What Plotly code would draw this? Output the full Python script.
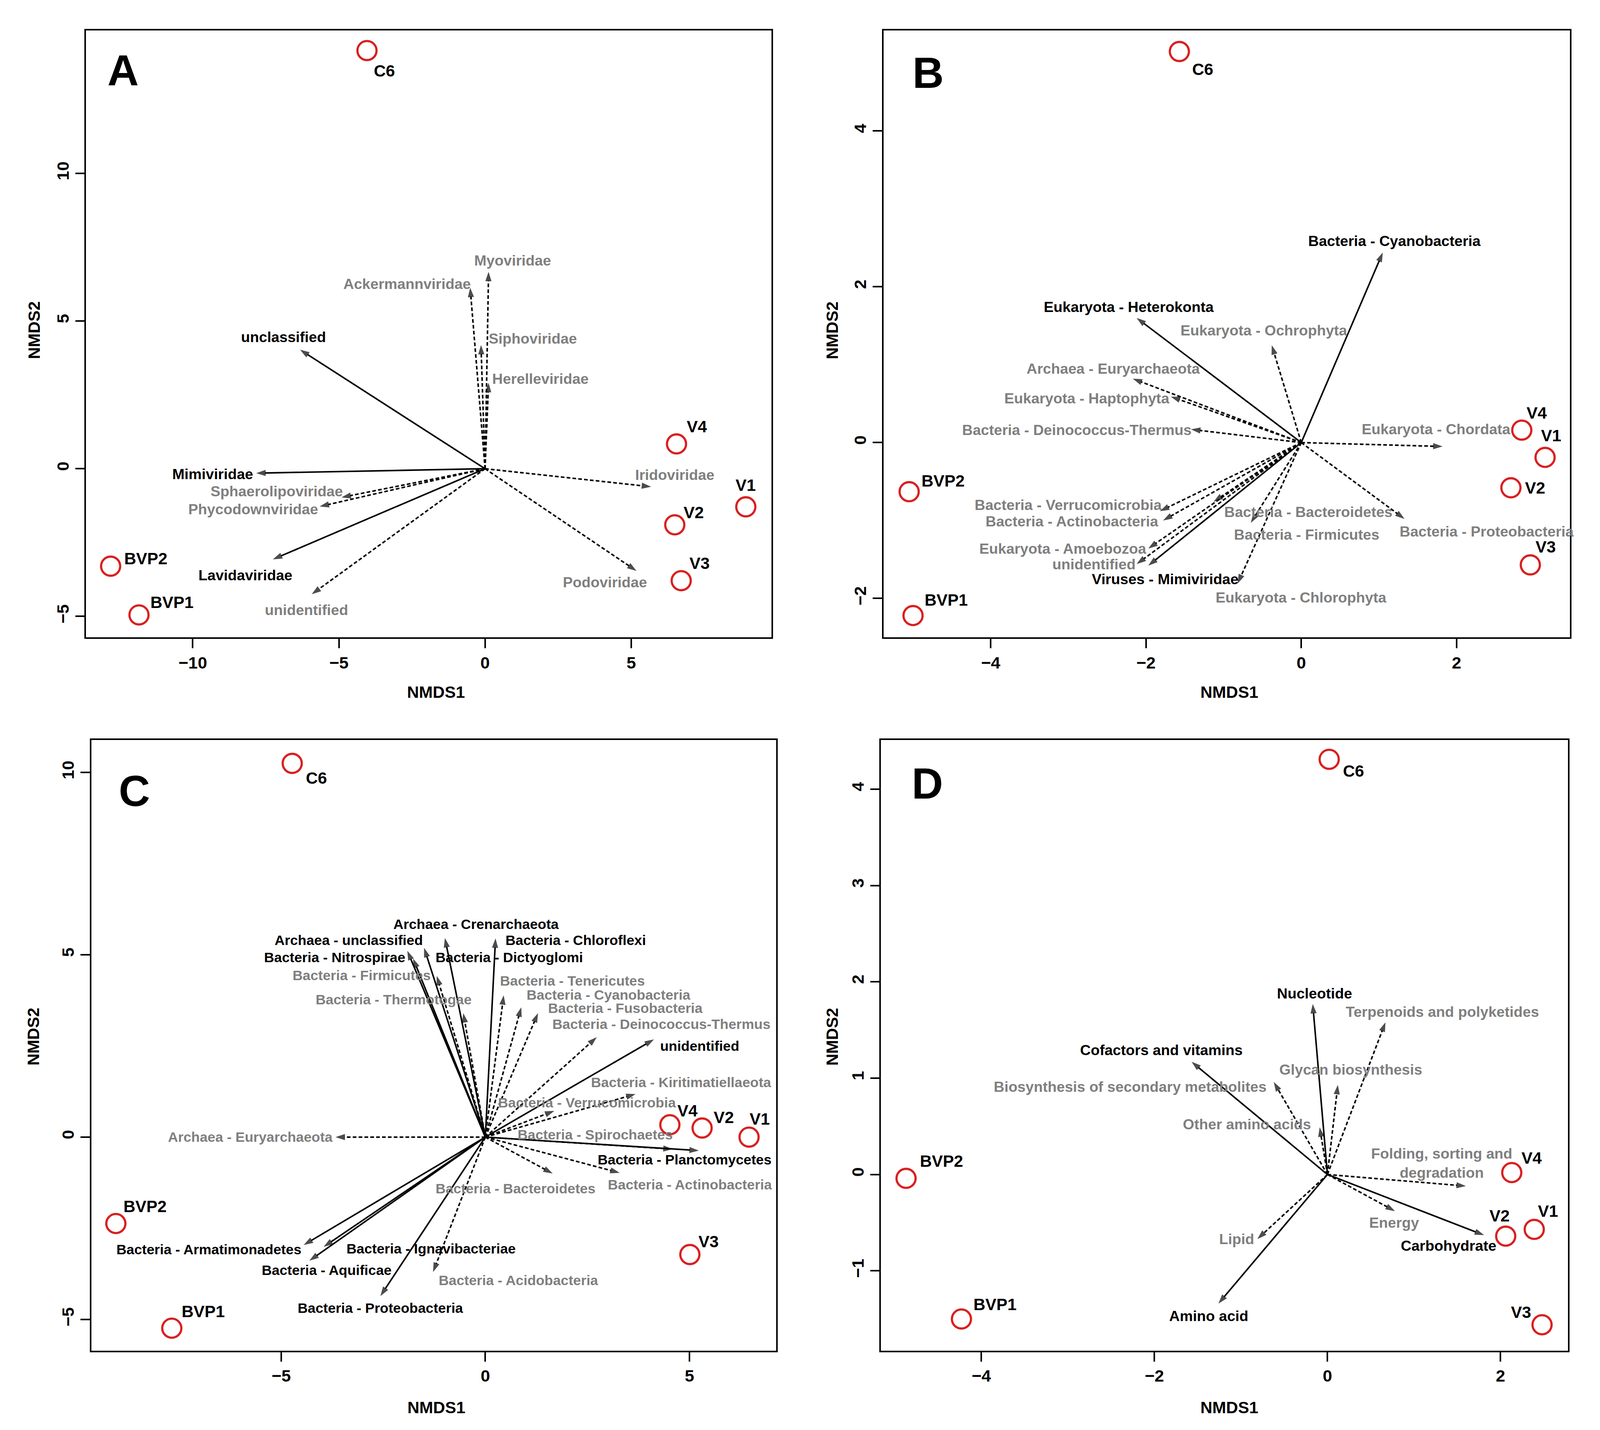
import plotly.graph_objects as go

# ---------------- Panel A : viral families ----------------
A_samples = ["C6", "BVP2", "BVP1", "V4", "V1", "V2", "V3"]
A_sx = [-4.04, -12.81, -11.84, 6.55, 8.92, 6.49, 6.71]
A_sy = [14.16, -3.30, -4.95, 0.84, -1.29, -1.90, -3.79]
A_slx = [-3.45, -11.61, -10.71, 7.25, 8.92, 7.14, 7.34]
A_sly = [13.47, -3.04, -4.52, 1.42, -0.56, -1.48, -3.20]

A_vec = ["Myoviridae", "Ackermannviridae", "Siphoviridae", "Herelleviridae", "Iridoviridae",
         "Podoviridae", "unclassified", "Mimiviridae", "Sphaerolipoviridae", "Phycodownviridae",
         "Lavidaviridae", "unidentified"]
A_vx = [0.12, -0.51, -0.14, 0.12, 5.68, 5.18, -6.33, -7.83, -4.91, -5.66, -7.26, -5.93]
A_vy = [6.67, 6.13, 4.19, 2.91, -0.61, -3.46, 4.03, -0.15, -0.97, -1.28, -3.07, -4.25]
A_sig = [False, False, False, False, False, False, True, True, False, False, True, False]
A_lx = [0.95, -2.67, 1.63, 1.89, 6.49, 4.10, -6.90, -9.32, -7.12, -7.94, -8.19, -6.11]
A_ly = [7.05, 6.26, 4.41, 3.04, -0.21, -3.84, 4.46, -0.18, -0.76, -1.37, -3.61, -4.78]

# ---------------- Panel B : microbial phyla ----------------
B_samples = ["C6", "BVP2", "BVP1", "V4", "V1", "V2", "V3"]
B_sx = [-1.57, -5.05, -5.00, 2.84, 3.14, 2.70, 2.95]
B_sy = [5.02, -0.63, -2.22, 0.16, -0.19, -0.58, -1.57]
B_slx = [-1.27, -4.61, -4.57, 3.03, 3.22, 3.01, 3.15]
B_sly = [4.79, -0.49, -2.02, 0.38, 0.09, -0.58, -1.34]

B_vec = ["Bacteria - Cyanobacteria", "Eukaryota - Ochrophyta", "Eukaryota - Heterokonta",
         "Archaea - Euryarchaeota", "Eukaryota - Haptophyta", "Bacteria - Deinococcus-Thermus",
         "Eukaryota - Chordata", "Bacteria - Proteobacteria", "Bacteria - Bacteroidetes",
         "Bacteria - Firmicutes", "Eukaryota - Chlorophyta", "Viruses - Mimiviridae",
         "unidentified", "Eukaryota - Amoebozoa", "Bacteria - Verrucomicrobia",
         "Bacteria - Actinobacteria"]
B_vx = [1.05, -0.38, -2.12, -2.17, -1.68, -1.42, 1.82, 1.33, -1.13, -0.65, -0.82, -1.97,
        -2.12, -1.97, -1.82, -1.78]
B_vy = [2.44, 1.25, 1.60, 0.82, 0.59, 0.17, -0.05, -0.98, -0.76, -1.03, -1.81, -1.58,
        -1.56, -1.36, -0.88, -1.00]
B_sig = [True, False, True, False, False, False, False, False, False, False, False, True,
         False, False, False, False]
B_lx = [1.20, -0.48, -2.22, -2.42, -2.76, -2.89, 1.74, 2.39, 0.09, 0.07, 0.00, -1.75,
        -2.67, -3.07, -3.00, -2.95]
B_ly = [2.59, 1.44, 1.74, 0.95, 0.57, 0.16, 0.17, -1.14, -0.89, -1.18, -1.99, -1.75,
        -1.56, -1.36, -0.80, -1.01]

# ---------------- Panel C : bacterial / archaeal phyla ----------------
C_samples = ["C6", "BVP2", "BVP1", "V4", "V2", "V1", "V3"]
C_sx = [-4.73, -9.05, -7.68, 4.52, 5.31, 6.46, 5.01]
C_sy = [10.25, -2.37, -5.24, 0.34, 0.25, 0.00, -3.22]
C_slx = [-4.14, -8.33, -6.91, 4.95, 5.84, 6.72, 5.47]
C_sly = [9.85, -1.90, -4.78, 0.72, 0.54, 0.50, -2.87]

C_vec = ["Archaea - Euryarchaeota", "Bacteria - Armatimonadetes", "Bacteria - Aquificae",
         "Bacteria - Ignavibacteriae", "Bacteria - Proteobacteria", "Bacteria - Acidobacteria",
         "Bacteria - Bacteroidetes", "Bacteria - Actinobacteria", "Bacteria - Planctomycetes",
         "Bacteria - Spirochaetes", "Bacteria - Verrucomicrobia", "Bacteria - Kiritimatiellaeota",
         "unidentified", "Bacteria - Deinococcus-Thermus", "Bacteria - Fusobacteria",
         "Bacteria - Cyanobacteria", "Bacteria - Tenericutes", "Bacteria - Chloroflexi",
         "Bacteria - Dictyoglomi", "Archaea - Crenarchaeota", "Archaea - unclassified",
         "Bacteria - Nitrospirae", "Bacteria - Firmicutes", "Bacteria - Thermotogae"]
C_vx = [-3.67, -4.45, -4.31, -3.96, -2.57, -1.28, 1.65, 3.29, 5.23, 4.59, 1.69, 3.68,
        4.13, 2.73, 1.29, 0.88, 0.45, 0.25, -1.77, -0.99, -1.50, -1.91, -1.19, -0.54]
C_vy = [0.00, -2.96, -3.39, -3.01, -4.36, -3.70, -1.00, -0.98, -0.37, -0.33, 0.72, 1.18,
        2.68, 2.74, 3.40, 3.56, 3.89, 5.45, 4.90, 5.46, 5.19, 5.11, 4.42, 3.40]
C_sig = [False, True, True, True, True, False, False, False, True, False, False, False,
         True, False, False, False, False, True, True, True, True, True, False, False]
C_lx = [-5.75, -6.77, -3.89, -1.33, -2.57, 0.81, 0.74, 5.01, 4.88, 2.69, 2.49, 4.80,
        5.25, 4.31, 3.43, 3.02, 2.13, 2.22, 0.58, -0.22, -3.34, -3.69, -3.03, -2.25]
C_ly = [0.00, -3.09, -3.65, -3.06, -4.69, -3.93, -1.41, -1.31, -0.62, 0.06, 0.94, 1.50,
        2.49, 3.09, 3.53, 3.90, 4.28, 5.40, 4.93, 5.84, 5.40, 4.93, 4.43, 3.77]

# ---------------- Panel D : KEGG functional categories ----------------
D_samples = ["C6", "BVP2", "BVP1", "V4", "V1", "V2", "V3"]
D_sx = [0.02, -4.87, -4.23, 2.13, 2.39, 2.06, 2.48]
D_sy = [4.31, -0.04, -1.50, 0.02, -0.57, -0.64, -1.56]
D_slx = [0.30, -4.46, -3.84, 2.36, 2.55, 1.99, 2.24]
D_sly = [4.19, 0.14, -1.35, 0.17, -0.38, -0.43, -1.43]

D_vec = ["Nucleotide", "Terpenoids and polyketides", "Cofactors and vitamins",
         "Glycan biosynthesis", "Biosynthesis of secondary metabolites", "Other amino acids",
         "Folding, sorting and<br>degradation", "Energy", "Carbohydrate", "Lipid", "Amino acid"]
D_vx = [-0.17, 0.67, -1.57, 0.12, -0.62, -0.09, 1.60, 0.78, 1.81, -0.81, -1.26]
D_vy = [1.77, 1.58, 1.17, 0.93, 0.96, 0.49, -0.12, -0.38, -0.63, -0.67, -1.34]
D_sig = [True, False, True, False, False, False, False, False, True, False, True]
D_lx = [-0.15, 1.33, -1.92, 0.27, -2.28, -0.93, 1.32, 0.77, 1.40, -1.05, -1.37]
D_ly = [1.88, 1.69, 1.29, 1.09, 0.91, 0.52, 0.12, -0.50, -0.74, -0.67, -1.47]

# ---------------- style settings ----------------
FONT = "Liberation Sans, Arial, Helvetica, sans-serif"
GRAY = "#7f7f7f"
RED = "#d9201f"
K = 1 / 1.0625          # CSS px -> rendered px compensation


def px(v):
    return v * K


panels = [
    dict(letter="A", samples=(A_samples, A_sx, A_sy, A_slx, A_sly),
         vec=(A_vec, A_vx, A_vy, A_sig, A_lx, A_ly), lab_size=40,
         xr=[-13.65, 9.8], yr=[-5.71, 14.84], xt=[-10, -5, 0, 5], yt=[-5, 0, 5, 10],
         xd=[0.0538, 0.4822], yd=[0.5543, 0.9787],
         letter_pos=(0.0769, 0.9506), x_title=(0.2725, 0.5161), y_title=(0.0214, 0.769)),
    dict(letter="B", samples=(B_samples, B_sx, B_sy, B_slx, B_sly),
         vec=(B_vec, B_vx, B_vy, B_sig, B_lx, B_ly), lab_size=40,
         xr=[-5.38, 3.46], yr=[-2.50, 5.29], xt=[-4, -2, 0, 2], yt=[-2, 0, 2, 4],
         xd=[0.5522, 0.9812], yd=[0.5543, 0.9787],
         letter_pos=(0.580, 0.949), x_title=(0.7683, 0.5161), y_title=(0.5203, 0.769)),
    dict(letter="C", samples=(C_samples, C_sx, C_sy, C_slx, C_sly),
         vec=(C_vec, C_vx, C_vy, C_sig, C_lx, C_ly), lab_size=38,
         xr=[-9.65, 7.12], yr=[-5.86, 10.89], xt=[-5, 0, 5], yt=[-5, 0, 5, 10],
         xd=[0.0571, 0.4850], yd=[0.0554, 0.4825],
         letter_pos=(0.084, 0.447), x_title=(0.2727, 0.0156), y_title=(0.0209, 0.275)),
    dict(letter="D", samples=(D_samples, D_sx, D_sy, D_slx, D_sly),
         vec=(D_vec, D_vx, D_vy, D_sig, D_lx, D_ly), lab_size=40,
         xr=[-5.16, 2.78], yr=[-1.83, 4.51], xt=[-4, -2, 0, 2], yt=[-1, 0, 1, 2, 3, 4],
         xd=[0.5506, 0.9800], yd=[0.0554, 0.4825],
         letter_pos=(0.5796, 0.452), x_title=(0.7683, 0.0156), y_title=(0.5203, 0.275)),
]

fig = go.Figure()
annotations = []
layout_axes = {}

for i, p in enumerate(panels):
    n = "" if i == 0 else str(i + 1)
    xa, ya = "x" + n, "y" + n
    names, vx, vy, sig, lx, ly = p["vec"]
    # arrows (vectors from origin)
    for name, x1, y1, s, tx, ty in zip(names, vx, vy, sig, lx, ly):
        fig.add_trace(go.Scatter(
            x=[0, x1], y=[0, y1], xaxis=xa, yaxis=ya, mode="lines+markers",
            line=dict(color="black", width=px(4.2),
                      dash="solid" if s else "%.1fpx,%.1fpx" % (px(10), px(6))),
            marker=dict(symbol="arrow", size=[0, px(27)], angleref="previous",
                        color="black", line=dict(width=0)),
            showlegend=False, hoverinfo="skip"))
        annotations.append(dict(
            x=tx, y=ty, xref=xa, yref=ya, text=name, showarrow=False,
            xanchor="center", yanchor="middle",
            font=dict(family=FONT, size=px(p["lab_size"]), color="black" if s else GRAY,
                      weight="bold")))
    # sample points
    sn, sx, sy, slx, sly = p["samples"]
    fig.add_trace(go.Scatter(
        x=sx, y=sy, xaxis=xa, yaxis=ya, mode="markers",
        marker=dict(symbol="circle-open", size=px(52), color=RED,
                    line=dict(width=px(6), color=RED)),
        showlegend=False, hoverinfo="skip"))
    for name, tx, ty in zip(sn, slx, sly):
        annotations.append(dict(
            x=tx, y=ty, xref=xa, yref=ya, text=name, showarrow=False,
            xanchor="center", yanchor="middle",
            font=dict(family=FONT, size=px(45), color="black", weight="bold")))
    # panel letter
    annotations.append(dict(
        x=p["letter_pos"][0], y=p["letter_pos"][1], xref="paper", yref="paper",
        text=p["letter"], showarrow=False, xanchor="center", yanchor="middle",
        font=dict(family=FONT, size=px(118), color="black", weight="bold")))
    # axis titles
    annotations.append(dict(
        x=p["x_title"][0], y=p["x_title"][1], xref="paper", yref="paper",
        text="NMDS1", showarrow=False, xanchor="center", yanchor="middle",
        font=dict(family=FONT, size=px(45), color="black", weight="bold")))
    annotations.append(dict(
        x=p["y_title"][0], y=p["y_title"][1], xref="paper", yref="paper",
        text="NMDS2", showarrow=False, xanchor="center", yanchor="middle", textangle=-90,
        font=dict(family=FONT, size=px(45), color="black", weight="bold")))

    axis_common = dict(showgrid=False, zeroline=False, showline=True, mirror=True,
                       linecolor="black", linewidth=px(4), ticks="outside", ticklen=px(25),
                       tickwidth=px(4), tickcolor="black",
                       tickfont=dict(family=FONT, size=px(46), color="black", weight="bold"))
    layout_axes["xaxis" + n] = dict(axis_common, domain=p["xd"], range=p["xr"],
                                    tickvals=p["xt"], anchor=ya)
    layout_axes["yaxis" + n] = dict(axis_common, domain=p["yd"], range=p["yr"],
                                    tickvals=p["yt"], anchor=xa, tickangle=-90)

fig.update_layout(
    autosize=True, margin=dict(l=0, r=0, t=0, b=0),
    paper_bgcolor="white", plot_bgcolor="white",
    annotations=annotations, **layout_axes)

post = ("document.body.style.margin='0';document.body.style.overflow='hidden';"
        "var gd=document.getElementById('{plot_id}');"
        "if(window.Plotly&&gd){Plotly.Plots.resize(gd);}")

fig.write_html("out.html", default_width="100vw", default_height="100vh",
               config={"responsive": True, "displayModeBar": False}, post_script=post)
